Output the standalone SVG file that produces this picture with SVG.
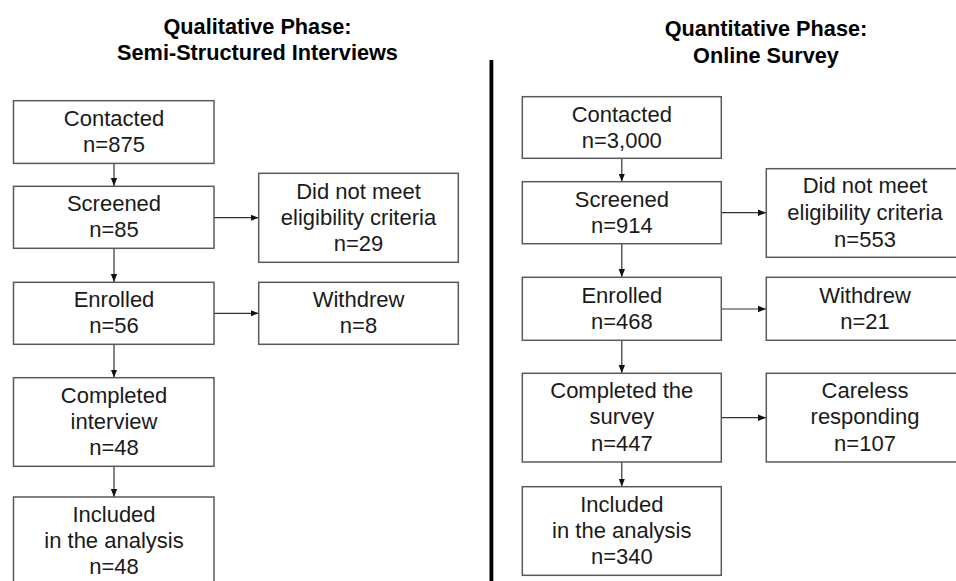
<svg xmlns="http://www.w3.org/2000/svg" width="956" height="581" viewBox="0 0 956 581">
<defs>
<style>
.box{fill:#fff;stroke:#5a5a5a;stroke-width:1.5}
.t{font-family:"Liberation Sans",Arial,sans-serif;font-size:22px;fill:#1a1a1a;text-anchor:middle}
.h{font-family:"Liberation Sans",Arial,sans-serif;font-size:21.7px;font-weight:bold;fill:#000;text-anchor:middle}
.c{stroke:#333;stroke-width:1.2;fill:none;marker-end:url(#ah)}
</style>
<marker id="ah" viewBox="0 0 8 8" refX="8" refY="4" markerWidth="8" markerHeight="8" markerUnits="userSpaceOnUse" orient="auto">
<path d="M0,0.8 L8,4 L0,7.2 Z" fill="#111"/>
</marker>
</defs>
<rect width="956" height="581" fill="#fff"/>
<g id="titles">
<text class="h" x="257.5" y="33.5">Qualitative Phase:</text>
<text class="h" x="257.5" y="60">Semi-Structured Interviews</text>
<text class="h" x="766" y="36">Quantitative Phase:</text>
<text class="h" x="766" y="63">Online Survey</text>
</g>
<g id="divider"><rect x="489.5" y="60" width="3.8" height="521" fill="#000"/></g>
<g id="connectors">
<line class="c" x1="114" y1="163.5" x2="114" y2="186"/>
<line class="c" x1="214" y1="217.7" x2="258.5" y2="217.7"/>
<line class="c" x1="114" y1="248.5" x2="114" y2="282"/>
<line class="c" x1="214" y1="313.3" x2="258.5" y2="313.3"/>
<line class="c" x1="114" y1="344.5" x2="114" y2="377.5"/>
<line class="c" x1="114" y1="466.5" x2="114" y2="497"/>
<line class="c" x1="621.8" y1="158.5" x2="621.8" y2="181.5"/>
<line class="c" x1="721.5" y1="212.7" x2="766" y2="212.7"/>
<line class="c" x1="621.8" y1="244" x2="621.8" y2="277"/>
<line class="c" x1="721.5" y1="309" x2="766" y2="309"/>
<line class="c" x1="621.8" y1="340.5" x2="621.8" y2="373"/>
<line class="c" x1="721.5" y1="417.7" x2="766" y2="417.7"/>
<line class="c" x1="621.8" y1="462" x2="621.8" y2="486.5"/>
</g>
<g id="q-contacted"><rect class="box" x="13.5" y="100.7" width="200.5" height="62.7"/><text class="t" x="114" y="126">Contacted</text><text class="t" x="114" y="152.3">n=875</text></g>
<g id="q-screened"><rect class="box" x="13.5" y="186.3" width="200.5" height="62"/><text class="t" x="114" y="211">Screened</text><text class="t" x="114" y="237.3">n=85</text></g>
<g id="q-ineligible"><rect class="box" x="258.7" y="173.3" width="199.6" height="89"/><text class="t" x="358.5" y="199">Did not meet</text><text class="t" x="358.5" y="225">eligibility criteria</text><text class="t" x="358.5" y="250.7">n=29</text></g>
<g id="q-enrolled"><rect class="box" x="13.5" y="282.3" width="200.5" height="62"/><text class="t" x="114" y="307.3">Enrolled</text><text class="t" x="114" y="333.3">n=56</text></g>
<g id="q-withdrew"><rect class="box" x="258.7" y="282.3" width="199.6" height="62"/><text class="t" x="358.5" y="307.3">Withdrew</text><text class="t" x="358.5" y="333.3">n=8</text></g>
<g id="q-completed"><rect class="box" x="13.5" y="377.7" width="200.5" height="88.6"/><text class="t" x="114" y="403.3">Completed</text><text class="t" x="114" y="429">interview</text><text class="t" x="114" y="455">n=48</text></g>
<g id="q-included"><rect class="box" x="13.5" y="497" width="200.5" height="95"/><text class="t" x="114" y="522.3">Included</text><text class="t" x="114" y="548.3">in the analysis</text><text class="t" x="114" y="574.3">n=48</text></g>
<g id="s-contacted"><rect class="box" x="522.3" y="96.7" width="199" height="61.6"/><text class="t" x="621.8" y="121.7">Contacted</text><text class="t" x="621.8" y="147.7">n=3,000</text></g>
<g id="s-screened"><rect class="box" x="522.3" y="181.7" width="199" height="62"/><text class="t" x="621.8" y="206.7">Screened</text><text class="t" x="621.8" y="233.3">n=914</text></g>
<g id="s-ineligible"><rect class="box" x="766.3" y="168.7" width="200" height="88.6"/><text class="t" x="865" y="193.3">Did not meet</text><text class="t" x="865" y="220">eligibility criteria</text><text class="t" x="865" y="246.7">n=553</text></g>
<g id="s-enrolled"><rect class="box" x="522.3" y="277.3" width="199" height="63"/><text class="t" x="621.8" y="303.3">Enrolled</text><text class="t" x="621.8" y="329.3">n=468</text></g>
<g id="s-withdrew"><rect class="box" x="766.3" y="277.3" width="200" height="63"/><text class="t" x="865" y="303.3">Withdrew</text><text class="t" x="865" y="329.3">n=21</text></g>
<g id="s-completed"><rect class="box" x="522.3" y="373.3" width="199" height="88.7"/><text class="t" x="621.8" y="398.3">Completed the</text><text class="t" x="621.8" y="424.3">survey</text><text class="t" x="621.8" y="450.7">n=447</text></g>
<g id="s-careless"><rect class="box" x="766.3" y="373.3" width="200" height="88.7"/><text class="t" x="865" y="398.3">Careless</text><text class="t" x="865" y="424.3">responding</text><text class="t" x="865" y="450.7">n=107</text></g>
<g id="s-included"><rect class="box" x="522.3" y="486.7" width="199" height="88.6"/><text class="t" x="621.8" y="511.7">Included</text><text class="t" x="621.8" y="537.7">in the analysis</text><text class="t" x="621.8" y="564.3">n=340</text></g>
</svg>
